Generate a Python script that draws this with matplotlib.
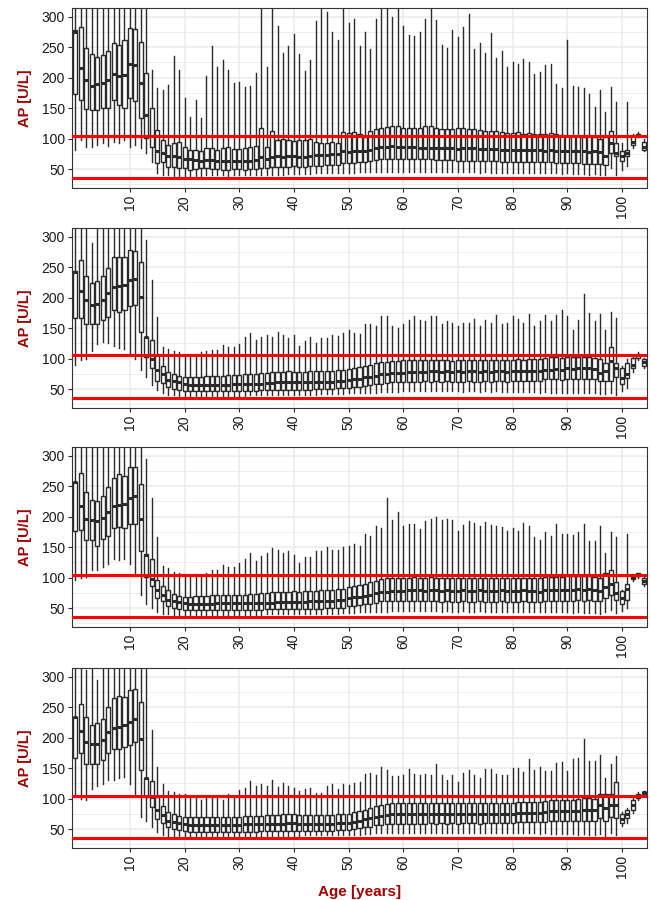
import matplotlib
matplotlib.use('Agg')
import matplotlib.pyplot as plt

plt.rcParams['font.family'] = ['Liberation Sans', 'DejaVu Sans']

AGES = list(range(105))
TICKS = [10, 20, 30, 40, 50, 60, 70, 80, 90, 100]
REF_LOW, REF_HIGH = 35, 105

# panel 1
p1_med = [275, 215, 196, 186, 189, 191, 196, 206, 203, 204, 222, 220, 191, 138, 105,
          80, 76, 71, 71, 70, 66, 66, 65, 64, 65, 65, 64, 63, 63, 64,
          64, 63, 64, 65, 70, 67, 70, 71, 70, 71, 71, 70, 70, 72, 73,
          73, 73, 74, 74, 79, 78, 79, 80, 80, 82, 85, 86, 87, 88, 87,
          87, 86, 86, 85, 85, 84, 84, 84, 84, 84, 83, 84, 84, 84, 83,
          83, 83, 83, 82, 82, 82, 82, 81, 82, 81, 81, 80, 81, 80, 80,
          80, 79, 80, 79, 78, 79, 78, 71, 92, 77, 71, 76, 95, 106, 87]
p1_q3 = [278, 283, 248, 239, 233, 237, 244, 256, 254, 262, 282, 279, 259, 207, 150,
         114, 98, 90, 93, 94, 87, 82, 81, 79, 84, 85, 82, 84, 86, 83,
         83, 84, 86, 88, 117, 87, 113, 97, 99, 98, 96, 98, 97, 99, 95,
         92, 93, 94, 93, 110, 109, 110, 108, 103, 112, 116, 118, 119, 120, 120,
         118, 118, 117, 118, 120, 121, 117, 116, 115, 116, 118, 117, 116, 115, 114,
         113, 112, 113, 110, 109, 109, 110, 108, 109, 107, 108, 108, 109, 107, 106,
         104, 105, 104, 103, 104, 103, 100, 103, 113, 93, 79, 82, 104, 108, 95]
p1_q1 = [173, 163, 149, 147, 147, 150, 150, 164, 155, 150, 166, 161, 134, 101, 87,
         60, 61, 54, 54, 52, 52, 49, 50, 51, 51, 50, 50, 49, 49, 50,
         50, 49, 50, 50, 52, 51, 53, 54, 54, 54, 55, 54, 54, 55, 55,
         55, 56, 56, 56, 60, 60, 60, 61, 61, 63, 65, 66, 66, 67, 67,
         66, 66, 66, 66, 66, 66, 65, 65, 65, 65, 64, 64, 64, 64, 64,
         63, 63, 63, 62, 62, 62, 62, 62, 62, 61, 61, 61, 61, 60, 60,
         60, 60, 60, 59, 59, 59, 59, 57, 76, 71, 63, 71, 90, 104, 81]
p1_lo = [82, 98, 87, 87, 90, 93, 88, 95, 92, 98, 87, 90, 84, 76, 62,
         43, 41, 40, 39, 39, 39, 38, 38, 39, 40, 41, 40, 40, 39, 40,
         40, 40, 40, 40, 41, 41, 41, 41, 41, 42, 42, 42, 42, 42, 43,
         43, 43, 43, 43, 44, 44, 44, 45, 45, 45, 46, 46, 46, 46, 46,
         46, 46, 46, 46, 46, 46, 45, 45, 45, 45, 45, 45, 45, 45, 44,
         45, 44, 44, 44, 44, 44, 44, 44, 44, 43, 44, 43, 43, 43, 42,
         43, 42, 42, 42, 41, 42, 41, 40, 52, 41, 48, 55, 85, 102, 80]
p1_hi = [400, 400, 400, 400, 400, 400, 400, 400, 400, 400, 400, 400, 400, 400, 213,
         183, 180, 188, 235, 213, 166, 136, 163, 133, 202, 252, 217, 228, 213, 191,
         193, 184, 187, 207, 400, 218, 400, 285, 241, 252, 272, 238, 210, 228, 292,
         400, 307, 274, 261, 400, 289, 296, 251, 275, 247, 296, 400, 400, 300, 400,
         285, 270, 268, 275, 296, 400, 295, 254, 248, 278, 267, 283, 304, 247, 257,
         241, 273, 232, 244, 218, 226, 222, 231, 226, 206, 209, 221, 222, 189, 183,
         261, 186, 184, 183, 173, 151, 180, 144, 185, 160, 92, 160, 108, 110, 100]

# panel 2
p2_med = [242, 210, 196, 187, 190, 196, 207, 218, 219, 220, 229, 230, 201, 135, 100,
          81, 74, 65, 64, 61, 59, 57, 57, 57, 57, 57, 57, 57, 57, 58,
          58, 58, 58, 59, 59, 60, 60, 61, 61, 61, 61, 61, 61, 61, 62,
          62, 62, 62, 63, 64, 65, 66, 67, 69, 70, 72, 74, 75, 76, 76,
          77, 78, 78, 78, 78, 79, 79, 78, 79, 78, 79, 78, 79, 79, 78,
          79, 78, 79, 79, 78, 79, 79, 79, 80, 80, 80, 82, 82, 83, 82,
          84, 83, 84, 84, 84, 83, 77, 79, 96, 85, 68, 74, 90, 106, 95]
p2_q3 = [243, 262, 235, 223, 227, 235, 249, 266, 266, 267, 278, 277, 259, 136, 131,
         105, 88, 78, 75, 72, 70, 69, 69, 70, 71, 71, 72, 72, 73, 73,
         73, 74, 74, 75, 76, 77, 78, 78, 78, 79, 78, 78, 78, 79, 79,
         80, 80, 80, 81, 82, 83, 84, 86, 88, 90, 92, 94, 95, 96, 96,
         97, 97, 98, 97, 98, 97, 98, 97, 98, 96, 97, 97, 98, 97, 97,
         98, 97, 98, 98, 97, 98, 99, 98, 99, 100, 100, 101, 102, 102, 101,
         103, 102, 103, 103, 102, 101, 99, 93, 119, 93, 85, 93, 101, 108, 99]
p2_q1 = [166, 166, 157, 156, 156, 163, 168, 180, 176, 179, 186, 187, 143, 102, 85,
         64, 60, 53, 50, 48, 47, 46, 46, 46, 46, 46, 46, 46, 46, 47,
         47, 47, 47, 47, 48, 48, 48, 49, 49, 49, 49, 49, 49, 49, 50,
         50, 50, 50, 51, 51, 52, 53, 54, 55, 56, 58, 59, 60, 61, 61,
         62, 62, 62, 62, 63, 62, 63, 62, 63, 62, 62, 62, 63, 62, 62,
         63, 62, 63, 63, 62, 63, 63, 63, 64, 64, 64, 66, 66, 66, 65,
         66, 66, 66, 66, 67, 66, 63, 64, 63, 70, 59, 68, 85, 101, 88]
p2_lo = [90, 98, 100, 113, 124, 127, 125, 121, 118, 116, 108, 100, 82, 70, 57,
         48, 43, 41, 40, 39, 38, 38, 38, 38, 38, 39, 39, 39, 39, 39,
         39, 39, 40, 40, 40, 40, 40, 40, 41, 41, 41, 41, 41, 41, 41,
         42, 42, 42, 42, 42, 43, 43, 43, 44, 44, 44, 45, 45, 45, 45,
         46, 46, 46, 46, 46, 46, 46, 46, 46, 46, 46, 45, 46, 46, 45,
         46, 45, 46, 45, 45, 45, 45, 45, 45, 45, 44, 45, 44, 44, 44,
         44, 44, 44, 43, 44, 43, 42, 42, 44, 41, 47, 52, 78, 98, 84]
p2_hi = [400, 400, 400, 290, 400, 400, 400, 400, 400, 400, 400, 400, 400, 295, 229,
         168, 119, 116, 112, 110, 106, 104, 106, 110, 112, 114, 114, 122, 119, 119,
         124, 136, 142, 131, 136, 139, 136, 144, 139, 133, 139, 120, 128, 135, 126,
         133, 133, 139, 137, 142, 147, 142, 140, 157, 157, 154, 169, 169, 154, 150,
         157, 163, 169, 163, 161, 170, 169, 156, 161, 158, 154, 158, 159, 165, 154,
         163, 158, 172, 156, 158, 169, 165, 158, 173, 154, 161, 171, 161, 172, 179,
         169, 147, 163, 206, 174, 161, 173, 147, 177, 167, 88, 100, 103, 110, 101]

# panel 3
p3_med = [257, 218, 196, 194, 192, 197, 207, 218, 219, 221, 231, 233, 196, 137, 98,
          80, 72, 64, 62, 60, 58, 57, 57, 57, 57, 57, 58, 58, 58, 58,
          58, 58, 58, 58, 58, 59, 59, 60, 60, 60, 60, 60, 60, 61, 61,
          61, 62, 62, 63, 64, 66, 68, 69, 70, 72, 74, 76, 77, 78, 78,
          78, 79, 79, 79, 78, 79, 79, 78, 79, 78, 78, 79, 78, 78, 79,
          78, 78, 78, 79, 78, 78, 78, 79, 78, 78, 77, 79, 79, 79, 80,
          80, 80, 81, 80, 81, 80, 78, 84, 89, 75, 67, 81, 101, 105, 95]
p3_q3 = [257, 271, 240, 227, 225, 234, 249, 264, 270, 266, 281, 281, 253, 138, 131,
         96, 86, 79, 73, 70, 69, 69, 70, 70, 70, 71, 71, 71, 72, 72,
         72, 72, 73, 73, 74, 74, 76, 76, 77, 77, 78, 77, 78, 78, 78,
         79, 79, 80, 81, 82, 84, 86, 88, 90, 93, 95, 97, 99, 100, 100,
         100, 100, 101, 100, 100, 101, 100, 99, 100, 99, 99, 100, 100, 99, 100,
         100, 99, 100, 100, 99, 99, 100, 100, 99, 100, 99, 101, 101, 101, 101,
         102, 102, 102, 102, 102, 101, 100, 108, 113, 92, 78, 89, 103, 107, 100]
p3_q1 = [176, 178, 162, 161, 152, 164, 169, 181, 183, 181, 188, 188, 143, 101, 86,
         67, 61, 53, 51, 49, 47, 47, 47, 47, 47, 47, 47, 47, 47, 47,
         47, 47, 47, 47, 47, 48, 48, 48, 48, 49, 49, 49, 49, 49, 49,
         49, 50, 50, 50, 51, 53, 54, 55, 56, 57, 59, 61, 62, 62, 62,
         62, 62, 62, 61, 61, 61, 61, 60, 61, 60, 60, 61, 60, 60, 61,
         60, 60, 60, 61, 60, 60, 60, 61, 60, 60, 60, 62, 62, 62, 62,
         62, 62, 63, 62, 63, 62, 61, 67, 72, 63, 56, 64, 97, 103, 89]
p3_lo = [96, 100, 101, 112, 113, 118, 123, 131, 129, 131, 122, 107, 71, 57, 50,
         43, 41, 40, 39, 38, 38, 38, 38, 38, 38, 38, 39, 39, 39, 39,
         39, 39, 39, 39, 39, 40, 40, 40, 40, 40, 40, 40, 40, 41, 41,
         41, 41, 41, 41, 42, 42, 42, 43, 43, 43, 44, 44, 44, 45, 45,
         45, 45, 45, 45, 45, 45, 45, 44, 45, 44, 44, 45, 44, 44, 45,
         44, 44, 44, 44, 44, 44, 43, 44, 43, 43, 43, 44, 43, 43, 43,
         43, 42, 43, 42, 42, 42, 41, 44, 47, 42, 45, 50, 94, 100, 86]
p3_hi = [400, 400, 400, 400, 400, 400, 400, 400, 400, 400, 400, 400, 400, 294, 231,
         166, 119, 115, 110, 108, 106, 104, 106, 104, 108, 113, 112, 121, 118, 118,
         124, 130, 140, 127, 135, 140, 149, 146, 140, 144, 137, 124, 133, 133, 144,
         144, 150, 146, 146, 150, 152, 155, 151, 171, 168, 184, 182, 230, 194, 207,
         184, 188, 188, 180, 192, 196, 199, 194, 196, 195, 176, 186, 192, 190, 185,
         191, 187, 184, 183, 176, 181, 177, 190, 185, 166, 161, 174, 168, 188, 171,
         171, 170, 175, 188, 160, 160, 184, 141, 174, 166, 80, 172, 106, 108, 102]

# panel 4
p4_med = [234, 211, 193, 189, 190, 196, 209, 215, 218, 221, 226, 231, 198, 133, 103,
          81, 73, 64, 61, 60, 58, 57, 57, 57, 57, 57, 57, 57, 57, 57,
          57, 58, 58, 58, 58, 59, 59, 59, 59, 60, 60, 59, 59, 59, 59,
          59, 59, 59, 60, 60, 60, 62, 64, 66, 68, 70, 72, 73, 74, 74,
          75, 74, 75, 74, 74, 75, 74, 74, 74, 74, 74, 75, 74, 75, 74,
          75, 74, 75, 75, 75, 75, 76, 76, 76, 77, 77, 78, 79, 79, 79,
          80, 80, 80, 82, 82, 82, 90, 85, 90, 90, 66, 74, 90, 105, 110]
p4_q3 = [234, 255, 234, 220, 224, 230, 250, 265, 268, 267, 278, 279, 259, 133, 129,
         103, 87, 78, 74, 71, 69, 69, 69, 69, 69, 69, 69, 69, 70, 70,
         70, 71, 71, 71, 72, 73, 73, 73, 74, 74, 74, 73, 73, 73, 73,
         73, 73, 73, 74, 74, 75, 78, 80, 82, 85, 87, 89, 91, 92, 92,
         93, 92, 93, 92, 92, 93, 92, 93, 92, 93, 92, 93, 93, 93, 92,
         93, 93, 93, 93, 93, 93, 94, 94, 94, 95, 95, 96, 97, 97, 97,
         98, 98, 99, 101, 101, 100, 108, 107, 108, 127, 75, 82, 98, 108, 111]
p4_q1 = [167, 174, 157, 156, 157, 163, 174, 181, 182, 184, 188, 193, 146, 102, 86,
         67, 60, 53, 50, 48, 47, 46, 46, 46, 46, 46, 46, 46, 46, 46,
         46, 46, 46, 46, 47, 47, 47, 47, 47, 47, 47, 47, 47, 47, 47,
         47, 47, 47, 48, 48, 48, 50, 51, 53, 54, 56, 57, 58, 59, 59,
         59, 59, 59, 59, 59, 60, 59, 60, 59, 60, 59, 60, 60, 60, 59,
         60, 60, 60, 60, 60, 60, 61, 61, 61, 61, 61, 62, 63, 63, 63,
         63, 64, 64, 64, 64, 64, 68, 63, 70, 68, 60, 68, 82, 101, 108]
p4_lo = [107, 100, 97, 116, 121, 124, 131, 131, 134, 135, 124, 108, 69, 63, 53,
         45, 41, 39, 38, 38, 37, 37, 37, 37, 38, 38, 38, 38, 38, 38,
         38, 38, 38, 38, 39, 39, 39, 39, 39, 39, 39, 39, 40, 40, 40,
         40, 40, 40, 40, 41, 41, 41, 41, 42, 42, 43, 43, 43, 44, 44,
         44, 44, 44, 44, 44, 44, 44, 44, 44, 44, 44, 44, 44, 44, 44,
         44, 44, 43, 44, 43, 43, 43, 43, 43, 43, 42, 43, 42, 42, 42,
         42, 42, 41, 42, 41, 41, 42, 37, 44, 40, 55, 60, 76, 98, 106]
p4_hi = [400, 400, 310, 400, 295, 400, 400, 400, 400, 400, 400, 400, 400, 400, 212,
         152, 124, 113, 110, 108, 107, 103, 102, 97, 102, 101, 101, 98, 108, 105,
         114, 117, 129, 121, 124, 121, 131, 119, 126, 120, 117, 112, 115, 117, 109,
         109, 120, 124, 115, 124, 123, 126, 127, 141, 142, 138, 152, 146, 137, 137,
         138, 149, 141, 139, 140, 139, 156, 139, 130, 139, 127, 142, 146, 139, 133,
         149, 149, 140, 139, 139, 150, 150, 144, 165, 146, 151, 145, 145, 159, 160,
         145, 165, 167, 197, 162, 162, 171, 134, 156, 169, 78, 85, 102, 110, 113]

panels = [(p1_med, p1_q1, p1_q3, p1_lo, p1_hi),
          (p2_med, p2_q1, p2_q3, p2_lo, p2_hi),
          (p3_med, p3_q1, p3_q3, p3_lo, p3_hi),
          (p4_med, p4_q1, p4_q3, p4_lo, p4_hi)]

DARKRED = '#A00000'
LINE = '#2B2B2B'


def draw_panel(ax, med, q1, q3, lo, hi, last=False):
    stats = [dict(med=m, q1=a, q3=b, whislo=l, whishi=h)
             for m, a, b, l, h in zip(med, q1, q3, lo, hi)]
    ax.bxp(stats, positions=AGES, widths=0.75, showfliers=False, showcaps=False,
           patch_artist=True, manage_ticks=False,
           boxprops=dict(facecolor='white', edgecolor=LINE, lw=1.0),
           whiskerprops=dict(color=LINE, lw=1.0),
           medianprops=dict(color=LINE, lw=2.2, solid_capstyle='butt'))
    ax.axhline(REF_HIGH, color='#FF0000', lw=2.2, zorder=5)
    ax.axhline(REF_LOW, color='#FF0000', lw=2.2, zorder=5)
    ax.set_xlim(-0.6, 104.6)
    ax.set_ylim(19, 314)
    ax.set_xticks(TICKS)
    ax.set_xticklabels([str(t) for t in TICKS], rotation=90)
    ax.set_yticks([50, 100, 150, 200, 250, 300])
    ax.set_yticks([25, 75, 125, 175, 225, 275], minor=True)
    ax.set_axisbelow(True)
    ax.grid(which='major', color='#EBEBEB', lw=1.1)
    ax.grid(which='minor', axis='y', color='#EBEBEB', lw=0.6)
    ax.tick_params(which='major', length=3, width=0.8, color=LINE,
                   labelsize=10, labelcolor='#1A1A1A', pad=2)
    ax.tick_params(which='minor', length=0)
    for s in ax.spines.values():
        s.set_color('#333333')
        s.set_linewidth(0.8)
    ax.set_ylabel('AP [U/L]', color=DARKRED, fontsize=10.5, fontweight='bold', labelpad=7)
    if last:
        ax.set_xlabel('Age [years]', color=DARKRED, fontsize=11, fontweight='bold', labelpad=5)


fig = plt.figure(figsize=(6.5, 9), dpi=100)
bottoms = [0.7911, 0.5467, 0.3033, 0.0578]
for i, (b, data) in enumerate(zip(bottoms, panels)):
    ax = fig.add_axes([0.1108, b, 0.8846, 0.2])
    draw_panel(ax, *data, last=(i == 3))

fig.savefig('out.png', dpi=100)
